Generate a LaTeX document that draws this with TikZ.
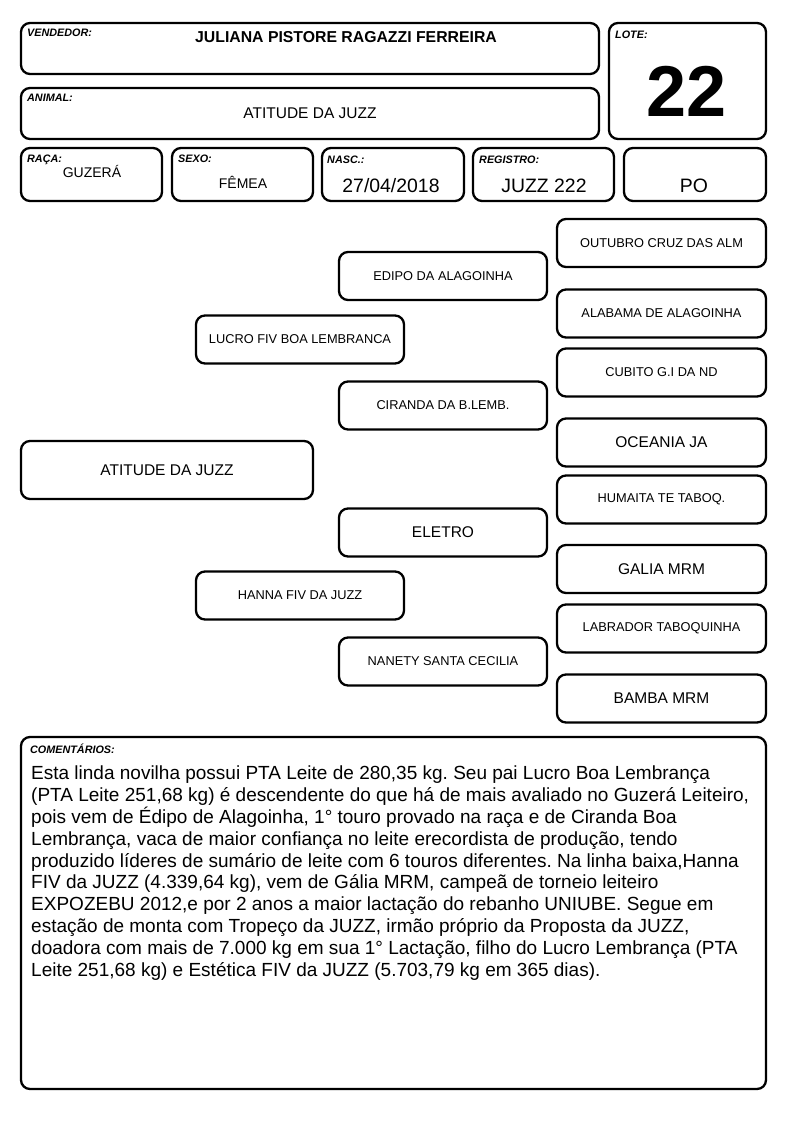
\documentclass[tikz,border=0pt]{standalone}
\usepackage{fontspec}
\setmainfont{Liberation Sans}
\frenchspacing
\begin{document}
\begin{tikzpicture}[x=1pt,y=-1pt,
  box/.style={draw, line width=2.3pt, rounded corners=9pt, inner sep=0pt},
  lbl/.style={anchor=base west, inner sep=0pt, font=\fontsize{10.8}{12}\selectfont\bfseries\itshape},
  val/.style={anchor=base, inner sep=0pt},
  gen/.style={box, minimum width=208pt, minimum height=48pt},
  big/.style={font=\fontsize{15.5}{18}\selectfont},
  small/.style={font=\fontsize{12.8}{15}\selectfont}]
\useasboundingbox (0,0) rectangle (794,1123);

% cabecalho
\node[box, minimum width=578pt, minimum height=51pt] (vendedor) at (310,48.5) {};
\node[box, minimum width=157pt, minimum height=116pt] (lote) at (687.5,81) {};
\node[box, minimum width=578pt, minimum height=51pt] (animal) at (310,113.5) {};
\node[box, minimum width=141pt, minimum height=53pt] (raca) at (91.5,174.5) {};
\node[box, minimum width=141pt, minimum height=53pt] (sexo) at (242.5,174.5) {};
\node[box, minimum width=142pt, minimum height=53pt] (nasc) at (393,174.5) {};
\node[box, minimum width=141pt, minimum height=53pt] (registro) at (543.5,174.5) {};
\node[box, minimum width=142pt, minimum height=53pt] (categoria) at (695,174.5) {};

\node[lbl] (vendedorlbl) at (27,37) {VENDEDOR:};
\node[lbl] (lotelbl) at (615,39) {LOTE:};
\node[lbl] (animallbl) at (27,102) {ANIMAL:};
\node[lbl] (racalbl) at (27,163) {RAÇA:};
\node[lbl] (sexolbl) at (178,163) {SEXO:};
\node[lbl] (nasclbl) at (327,164) {NASC.:};
\node[lbl] (registrolbl) at (479,164) {REGISTRO:};

\node[val, font=\fontsize{15.8}{18}\selectfont\bfseries] (vendedorval) at (346,43) {JULIANA PISTORE RAGAZZI FERREIRA};
\node[val, font=\fontsize{72}{80}\selectfont\bfseries] (loteval) at (687,117) {22};
\node[val, big] (animalval) at (310,119) {ATITUDE DA JUZZ};
\node[val, font=\fontsize{14}{16}\selectfont] (racaval) at (92,178) {GUZERÁ};
\node[val, font=\fontsize{14}{16}\selectfont] (sexoval) at (243,189) {FÊMEA};
\node[val, font=\fontsize{19.4}{22}\selectfont] (nascval) at (391,193) {27/04/2018};
\node[val, font=\fontsize{19.4}{22}\selectfont] (registroval) at (544,193) {JUZZ 222};
\node[val, font=\fontsize{19.4}{22}\selectfont] (categoriaval) at (694,193) {PO};

% genealogia
\node[box, big, minimum width=292pt, minimum height=58pt] (atitude) at (167,470) {ATITUDE DA JUZZ};

\node[gen, small] (lucro) at (300,339.5) {LUCRO FIV BOA LEMBRANCA};
\node[gen, small] (hanna) at (300,595.5) {HANNA FIV DA JUZZ};

\node[gen, small] (edipo) at (443,276) {EDIPO DA ALAGOINHA};
\node[gen, small] (ciranda) at (443,405.5) {CIRANDA DA B.LEMB.};
\node[gen, big] (eletro) at (443,532.5) {ELETRO};
\node[gen, small] (nanety) at (443,661.5) {NANETY SANTA CECILIA};

\node[gen, small, minimum width=209pt] (outubro) at (661.5,243) {OUTUBRO CRUZ DAS ALM};
\node[gen, small, minimum width=209pt] (alabama) at (661.5,313.5) {ALABAMA DE ALAGOINHA};
\node[gen, small, minimum width=209pt] (cubito) at (661.5,372.5) {CUBITO G.I DA ND};
\node[gen, big, minimum width=209pt] (oceania) at (661.5,442.5) {OCEANIA JA};
\node[gen, small, minimum width=209pt] (humaita) at (661.5,499.5) {HUMAITA TE TABOQ.};
\node[gen, big, minimum width=209pt] (galia) at (661.5,569) {GALIA MRM};
\node[gen, small, minimum width=209pt] (labrador) at (661.5,628.5) {LABRADOR TABOQUINHA};
\node[gen, big, minimum width=209pt] (bamba) at (661.5,698.5) {BAMBA MRM};

% comentarios
\node[box, minimum width=745pt, minimum height=352pt] (comentarios) at (393.5,913) {};
\node[lbl] (comentarioslbl) at (30,753) {COMENTÁRIOS:};
\node[anchor=north west, inner sep=0pt, align=left, font=\fontsize{19}{21.8}\selectfont] (texto) at (31,766)
  {Esta linda novilha possui PTA Leite de 280,35 kg. Seu pai Lucro Boa Lembrança\\
   (PTA Leite 251,68 kg) é descendente do que há de mais avaliado no Guzerá Leiteiro,\\
   pois vem de Édipo de Alagoinha, 1° touro provado na raça e de Ciranda Boa\\
   Lembrança, vaca de maior confiança no leite erecordista de produção, tendo\\
   produzido líderes de sumário de leite com 6 touros diferentes. Na linha baixa,Hanna\\
   FIV da JUZZ (4.339,64 kg), vem de Gália MRM, campeã de torneio leiteiro\\
   EXPOZEBU 2012,e por 2 anos a maior lactação do rebanho UNIUBE. Segue em\\
   estação de monta com Tropeço da JUZZ, irmão próprio da Proposta da JUZZ,\\
   doadora com mais de 7.000 kg em sua 1° Lactação, filho do Lucro Lembrança (PTA\\
   Leite 251,68 kg) e Estética FIV da JUZZ (5.703,79 kg em 365 dias).};
\end{tikzpicture}
\end{document}
